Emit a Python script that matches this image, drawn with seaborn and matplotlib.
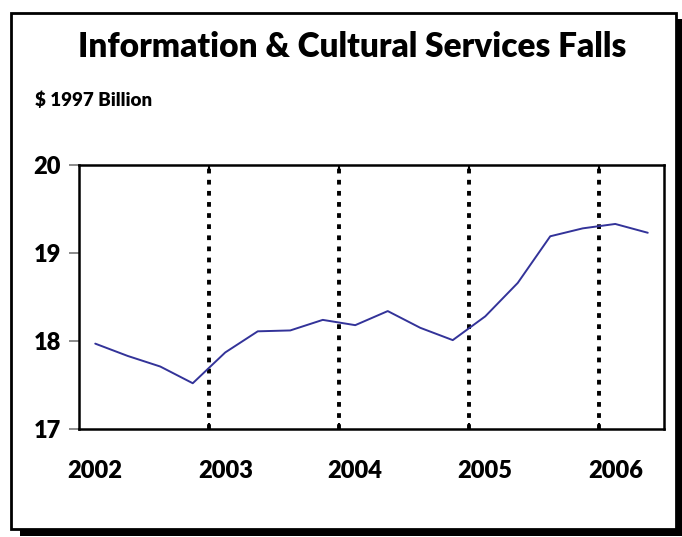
import matplotlib
matplotlib.use("Agg")
import matplotlib.pyplot as plt
from matplotlib.patches import Rectangle
import seaborn as sns
import pandas as pd

# ---- data ----
quarters = ["2002Q1", "2002Q2", "2002Q3", "2002Q4",
            "2003Q1", "2003Q2", "2003Q3", "2003Q4",
            "2004Q1", "2004Q2", "2004Q3", "2004Q4",
            "2005Q1", "2005Q2", "2005Q3", "2005Q4",
            "2006Q1", "2006Q2"]
values = [17.97, 17.83, 17.71, 17.52,
          17.87, 18.11, 18.12, 18.24,
          18.18, 18.34, 18.15, 18.01,
          18.28, 18.66, 19.19, 19.28,
          19.33, 19.23]
year_labels = ["2002", "2003", "2004", "2005", "2006"]
y_ticks = [17, 18, 19, 20]

title = "Information & Cultural Services Falls"
subtitle = "$ 1997 Billion"

sns.set_theme(style="white")
plt.rcParams["font.family"] = ["Lato", "DejaVu Sans"]
plt.rcParams["lines.scale_dashes"] = False

df = pd.DataFrame({"idx": list(range(len(quarters))), "value": values})

fig = plt.figure(figsize=(6.82, 5.37), dpi=100)
fig.patch.set_facecolor("white")

# frame with shadow
W, H = 682, 537
shadow = Rectangle((20 / W, 1 - 536 / H), (682 - 20) / W, (536 - 19) / H,
                   transform=fig.transFigure, facecolor="black", edgecolor="none", zorder=0)
frame = Rectangle((11 / W, 1 - 529 / H), (676 - 11) / W, (529 - 13) / H,
                  transform=fig.transFigure, facecolor="white", edgecolor="black",
                  linewidth=2.0, zorder=1)
fig.patches.extend([shadow, frame])

ax = fig.add_axes([79 / W, 1 - 429 / H, (664 - 79) / W, (429 - 165) / H])
ax.set_zorder(3)
ax.set_facecolor("white")

sns.lineplot(data=df, x="idx", y="value", ax=ax, color="#333399", linewidth=1.4)

n_years = len(year_labels)
for k in range(1, n_years):
    ax.axvline(4 * k - 0.5, color="black", linewidth=2.8, linestyle=(0, (3.4, 4.6)), zorder=1)

ax.set_xlim(-0.5, len(quarters) - 0.5)
ax.set_ylim(y_ticks[0], y_ticks[-1])
ax.set_yticks(y_ticks)
ax.set_yticklabels([str(t) for t in y_ticks], fontsize=17, fontweight="heavy")
ax.set_xticks([4 * k for k in range(n_years)])
ax.set_xticklabels(year_labels, fontsize=17, fontweight="heavy")
ax.set_xticks([4 * k - 0.5 for k in range(1, n_years)], minor=True)
ax.tick_params(axis="x", which="major", length=0, pad=22, colors="black")
ax.tick_params(axis="x", which="minor", direction="in", length=4, width=1.5,
               top=True, bottom=True, color="black")
ax.tick_params(axis="y", which="major", direction="out", length=7, width=1.2,
               color="#777777", pad=6, labelcolor="black", left=True)
ax.set_xlabel("")
ax.set_ylabel("")
for s in ax.spines.values():
    s.set_color("black")
    s.set_linewidth(1.8)
    s.set_visible(True)

fig.text(352 / W, 1 - 47 / H, title, ha="center", va="center",
         fontsize=24, fontweight="heavy", color="black", zorder=4)
fig.text(35 / W, 1 - 100 / H, subtitle, ha="left", va="center",
         fontsize=13.5, fontweight="heavy", color="black", zorder=4)

fig.savefig("out.png", dpi=100, facecolor="white")
